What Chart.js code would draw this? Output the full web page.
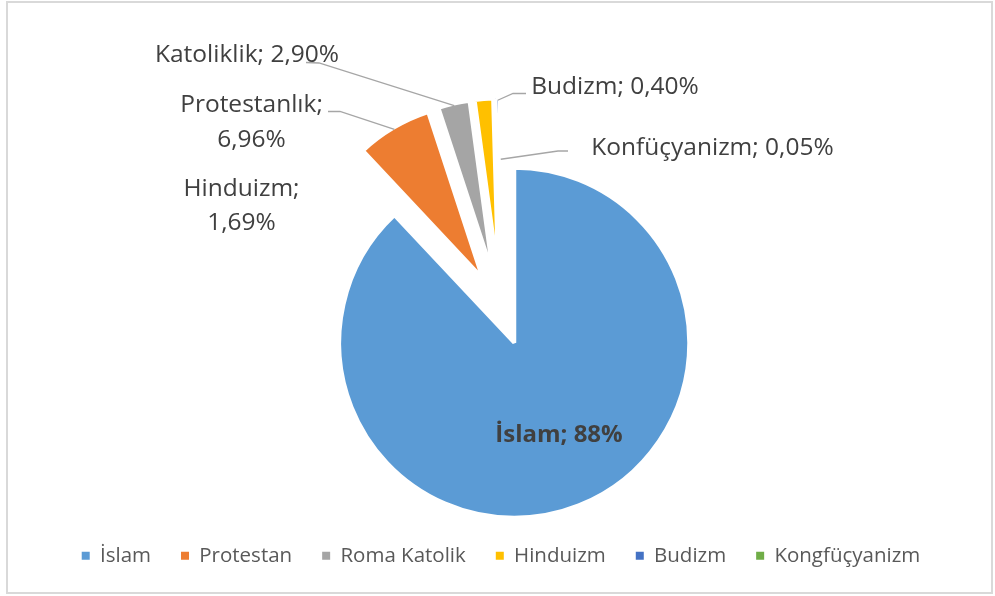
<!DOCTYPE html>
<html>
<head>
<meta charset="utf-8">
<script src="https://cdn.jsdelivr.net/npm/chart.js@4"></script>
<style>
html,body{margin:0;padding:0;background:#ffffff;}
#wrap{width:995px;height:596px;position:relative;}
</style>
</head>
<body>
<div id="wrap"><canvas id="c" width="995" height="596"></canvas></div>
<script>
// ---- data ----
const categories = ['İslam', 'Protestan', 'Roma Katolik', 'Hinduizm', 'Budizm', 'Kongfüçyanizm'];
const shares = [88, 6.96, 2.90, 1.69, 0.40, 0.05];
const colors = ['#5B9BD5', '#ED7D31', '#A5A5A5', '#FFC000', '#4472C4', '#70AD47'];
const labelTexts = [
  ['İslam; 88%'],
  ['Protestanlık;', '6,96%'],
  ['Katoliklik; 2,90%'],
  ['Hinduizm;', '1,69%'],
  ['Budizm; 0,40%'],
  ['Konfüçyanizm; 0,05%']
];

// ---- layout / style ----
const EXPLODE = 36;          // every slice pulled out along its bisector
const FONT = 'Open Sans';
const labelLayout = [
  {x: 559, y: 442, lh: 0, bold: true, size: 24},
  {x: 251.5, y: 112, lh: 35, size: 24.5, leader: {pts: [[328, 111.5], [340, 111.5]], r: 173}},
  {x: 247, y: 62, lh: 0, size: 24.5, leader: {pts: [[306, 62.5], [319, 63]], r: 173}},
  {x: 241.5, y: 196, lh: 34, size: 24.5},
  {x: 615, y: 93.5, lh: 0, size: 24.5, leader: {pts: [[526, 93.5], [513, 93.5]], r: 173}},
  {x: 712.5, y: 154.5, lh: 0, size: 24.5, leader: {pts: [[568, 151], [558, 151]], r: 114}}
];

function explodeVec(arc) {
  const mid = (arc.startAngle + arc.endAngle) / 2;
  return {c: Math.cos(mid), s: Math.sin(mid)};
}

const framePlugin = {
  id: 'frame',
  beforeDraw(chart) {
    const ctx = chart.ctx;
    ctx.save();
    ctx.fillStyle = '#ffffff';
    ctx.fillRect(0, 0, chart.width, chart.height);
    ctx.strokeStyle = '#D9D9D9';
    ctx.lineWidth = 2;
    ctx.strokeRect(7, 2, 985, 591);
    ctx.restore();
  }
};

const explodePlugin = {
  id: 'explode',
  beforeDatasetDraw(chart, args) {
    args.meta.data.forEach(a => {
      const v = explodeVec(a);
      a._dx = v.c * EXPLODE; a._dy = v.s * EXPLODE;
      a.x += a._dx; a.y += a._dy;
    });
  },
  afterDatasetDraw(chart, args) {
    args.meta.data.forEach(a => { a.x -= a._dx; a.y -= a._dy; });
  }
};

const labelPlugin = {
  id: 'sliceLabels',
  afterDatasetsDraw(chart) {
    const ctx = chart.ctx;
    const meta = chart.getDatasetMeta(0);
    ctx.save();
    labelLayout.forEach((L, i) => {
      const arc = meta.data[i];
      if (L.leader) {
        const v = explodeVec(arc);
        const ax = arc.x + v.c * EXPLODE, ay = arc.y + v.s * EXPLODE;
        const ex = ax + v.c * L.leader.r, ey = ay + v.s * L.leader.r;
        ctx.beginPath();
        ctx.strokeStyle = '#A6A6A6';
        ctx.lineWidth = 1.3;
        ctx.moveTo(L.leader.pts[0][0], L.leader.pts[0][1]);
        for (let k = 1; k < L.leader.pts.length; k++) ctx.lineTo(L.leader.pts[k][0], L.leader.pts[k][1]);
        ctx.lineTo(ex, ey);
        ctx.stroke();
      }
      ctx.fillStyle = '#404040';
      ctx.font = (L.bold ? 'bold ' : '') + L.size + 'px "' + FONT + '"';
      ctx.textAlign = 'center';
      ctx.textBaseline = 'alphabetic';
      labelTexts[i].forEach((t, j) => ctx.fillText(t, L.x, L.y + j * L.lh));
    });
    ctx.restore();
  }
};

new Chart(document.getElementById('c'), {
  type: 'pie',
  data: {
    labels: categories,
    datasets: [{
      data: shares,
      backgroundColor: colors,
      borderColor: '#ffffff',
      borderWidth: 4,
      clip: false
    }]
  },
  options: {
    responsive: false,
    animation: false,
    radius: 175,
    layout: {padding: {left: 7, right: 0, top: 103, bottom: 20}},
    plugins: {
      tooltip: {enabled: false},
      legend: {
        position: 'bottom',
        labels: {
          boxWidth: 8,
          boxHeight: 8,
          padding: 30,
          color: '#595959',
          font: {family: FONT, size: 20.5},
          generateLabels(chart) {
            const items = Chart.overrides.pie.plugins.legend.labels.generateLabels(chart);
            items.forEach(it => { it.lineWidth = 0; it.strokeStyle = it.fillStyle; });
            return items;
          }
        }
      }
    }
  },
  plugins: [framePlugin, explodePlugin, labelPlugin]
});
</script>
</body>
</html>
